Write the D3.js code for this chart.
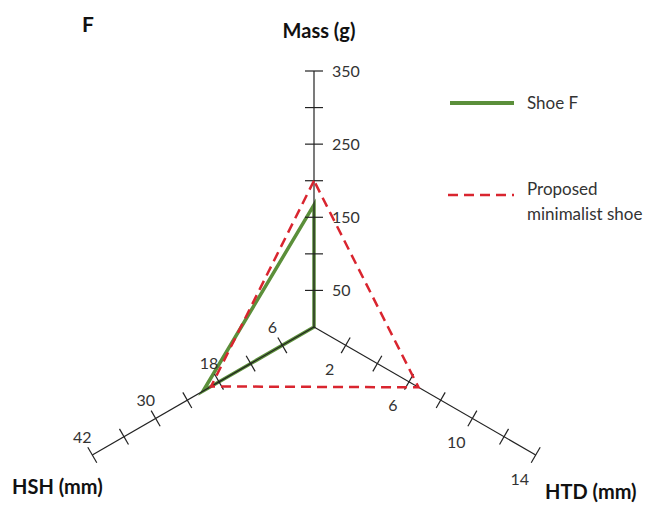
<!DOCTYPE html>
<html>
<head>
<meta charset="utf-8">
<script src="https://cdn.jsdelivr.net/npm/d3@7"></script>
<style>
  body { margin: 0; background: #fff; }
  text { font-family: "Lato", "Liberation Sans", sans-serif; }
  .tick-label { font-size: 16px; fill: #333; }
  .axis-title { font-size: 20px; font-weight: bold; fill: #111; }
  .legend-label { font-size: 17px; fill: #333; }
</style>
</head>
<body>
<div id="chart"></div>
<script>
// axis names, maxima, ticks and labelled ticks
const axisNames = ["Mass (g)", "HSH (mm)", "HTD (mm)"];
const axisMax = [350, 42, 14];
const axisTicks = [
  [50, 100, 150, 200, 250, 300, 350],
  [6, 12, 18, 24, 30, 36, 42],
  [2, 4, 6, 8, 10, 12, 14]
];
const axisTickLabels = [
  [50, 150, 250, 350],
  [6, 18, 30, 42],
  [2, 6, 10, 14]
];

// series values, in axis order
const seriesNames = ["Shoe F", "Proposed minimalist shoe"];
const shoeF = [167, 21, 0];
const proposedShoe = [200, 19.5, 6.6];

function drawRadar(width, height, selector) {

  let cx = 314, cy = 327, radius = 256;
  // angle of each axis (svg coords, y down)
  let angles = [-90, 150, 30].map(a => a * Math.PI / 180);

  let scales = axisMax.map(m => d3.scaleLinear().domain([0, m]).range([0, radius]));

  let svg = d3.select(selector)
    .append("svg")
    .attr("width", width)
    .attr("height", height);

  let chart = svg.append("g")
    .attr("transform", "translate(" + cx + "," + cy + ")");

  function point(i, v) {
    let r = scales[i](v);
    return [r * Math.cos(angles[i]), r * Math.sin(angles[i])];
  }

  let line = d3.line().curve(d3.curveLinearClosed);

  // series shapes
  chart.append("path")
    .attr("d", line(shoeF.map((v, i) => point(i, v))))
    .attr("fill", "none")
    .attr("stroke", "#5b8f3a")
    .attr("stroke-width", 3.5)
    .attr("stroke-linejoin", "miter");

  // axes
  axisNames.forEach(function(name, i) {
    let a = angles[i];
    let end = point(i, axisMax[i]);
    chart.append("line")
      .attr("x1", 0).attr("y1", 0)
      .attr("x2", end[0]).attr("y2", end[1])
      .attr("stroke", "#222")
      .attr("stroke-width", 1.2);

    // perpendicular
    let px = -Math.sin(a), py = Math.cos(a);

    axisTicks[i].forEach(function(t) {
      let p = point(i, t);
      chart.append("line")
        .attr("x1", p[0] - px * 9).attr("y1", p[1] - py * 9)
        .attr("x2", p[0] + px * 9).attr("y2", p[1] + py * 9)
        .attr("stroke", "#222")
        .attr("stroke-width", 1.2);
    });

    axisTickLabels[i].forEach(function(t) {
      let p = point(i, t);
      let lx, ly, anchor = "middle";
      if (i == 0) { lx = p[0] + 18; ly = p[1]; anchor = "start"; }
      if (i == 1) { lx = p[0] - 10; ly = p[1] - 18; }
      if (i == 2) { lx = p[0] - 16; ly = p[1] + 24; }
      chart.append("text")
        .attr("class", "tick-label")
        .attr("x", lx)
        .attr("y", ly)
        .attr("dy", "0.35em")
        .attr("text-anchor", anchor)
        .text(t);
    });
  });

  chart.append("path")
    .attr("d", line(proposedShoe.map((v, i) => point(i, v))))
    .attr("fill", "none")
    .attr("stroke", "#d9252f")
    .attr("stroke-width", 2.5)
    .attr("stroke-dasharray", "10,6");

  // axis titles
  svg.append("text").attr("class", "axis-title")
    .attr("x", 319).attr("y", 38).attr("text-anchor", "middle")
    .text(axisNames[0]);
  svg.append("text").attr("class", "axis-title")
    .attr("x", 12).attr("y", 494)
    .text(axisNames[1]);
  svg.append("text").attr("class", "axis-title")
    .attr("x", 545).attr("y", 499)
    .text(axisNames[2]);

  // panel letter
  svg.append("text")
    .attr("x", 82).attr("y", 32)
    .attr("font-size", "21px")
    .attr("font-weight", "bold")
    .attr("fill", "#111")
    .text("F");

  // legend
  let legend = svg.append("g");
  legend.append("line")
    .attr("x1", 450).attr("x2", 514).attr("y1", 103).attr("y2", 103)
    .attr("stroke", "#5b8f3a").attr("stroke-width", 4);
  legend.append("text").attr("class", "legend-label")
    .attr("x", 527).attr("y", 103).attr("dy", "0.35em")
    .text(seriesNames[0]);
  legend.append("line")
    .attr("x1", 448).attr("x2", 514).attr("y1", 195).attr("y2", 195)
    .attr("stroke", "#d9252f").attr("stroke-width", 2.5)
    .attr("stroke-dasharray", "10,6");
  legend.append("text").attr("class", "legend-label")
    .attr("x", 527).attr("y", 189).attr("dy", "0.35em")
    .text("Proposed");
  legend.append("text").attr("class", "legend-label")
    .attr("x", 527).attr("y", 214).attr("dy", "0.35em")
    .text("minimalist shoe");
}

drawRadar(661, 506, "#chart");
</script>
</body>
</html>
